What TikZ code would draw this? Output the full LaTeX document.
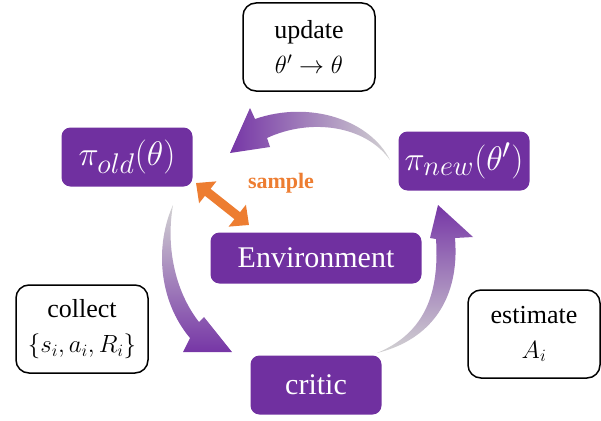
\documentclass[tikz,border=0pt]{standalone}
\usepackage{graphicx}
\usepackage{fontspec}
\setmainfont{Liberation Serif}
\usetikzlibrary{arrows.meta}
\definecolor{boxpurple}{HTML}{7030A0}
\definecolor{arrowpurple}{HTML}{7636A6}
\definecolor{fadegray}{HTML}{D2D2D2}
\definecolor{sampleorange}{HTML}{ED7D31}
\newcommand{\bigmath}[1]{\scalebox{1.37}{\fontsize{24.88}{30}\selectfont$#1$}}

\begin{document}
\begin{tikzpicture}[x=1pt, y=-1pt,
    note/.style={draw=black, line width=1.5pt, rounded corners=13pt, fill=white,
        align=center, inner sep=0pt, minimum width=132pt, minimum height=88pt,
        font=\fontsize{26}{35}\selectfont},
    policy/.style={fill=boxpurple, text=white, rounded corners=9pt, inner sep=0pt,
        minimum width=131pt, minimum height=59pt, font=\fontsize{30}{36}\selectfont},
    samplearrow/.style={line width=9pt, sampleorange,
        {Triangle[width=27pt, length=15pt]}-{Triangle[width=27pt, length=15pt]}}
]
    \useasboundingbox (0,0) rectangle (601,420);

    % boxes
    \node[note] (upd) at (309,47) {update\\$\theta'\rightarrow\theta$};
    \node[note] (coll) at (82,329) {collect\\$\{s_i,a_i,R_i\}$};
    \node[note] (est) at (534,334) {estimate\\$A_i$};
    \node[policy] (old) at (127,157) {\bigmath{\pi_{old}(\theta)}};
    \node[policy] (new) at (464,161) {\bigmath{\pi_{new}(\theta')}};
    \node[policy, minimum width=211pt, minimum height=51pt] (env) at (316,258) {Environment};
    \node[policy] (critic) at (316,385) {critic};

    % sample
    \node[text=sampleorange, font=\fontsize{22}{26}\selectfont\bfseries] (smp) at (281,183) {sample};
    \coordinate (sa) at (196,183);
    \coordinate (sb) at (249,225);
    \draw[samplearrow] (sa) -- (sb);

    % cycle arrows
    \shade[left color=arrowpurple, right color=fadegray]
        (390,160) .. controls (370,120) and (310,100) .. (255,119)
        -- (250,108) -- (230,153) -- (270,147) -- (267,138)
        .. controls (310,118) and (365,125) .. (390,160) -- cycle;
    \shade[top color=fadegray, bottom color=arrowpurple]
        (173,205) .. controls (155,245) and (158,300) .. (190,338)
        -- (183,352) -- (232,352) -- (204,317) -- (199,322)
        .. controls (174,290) and (166,245) .. (173,205) -- cycle;
    \shade[top color=arrowpurple, bottom color=fadegray]
        (377,353) .. controls (430,340) and (460,300) .. (455,238)
        -- (473,237) -- (438,205) -- (430,238) -- (436,239)
        .. controls (440,300) and (420,335) .. (377,353) -- cycle;
\end{tikzpicture}
\end{document}
